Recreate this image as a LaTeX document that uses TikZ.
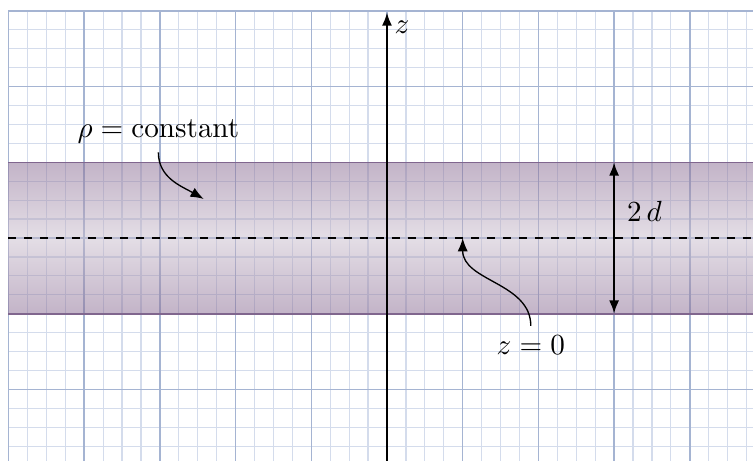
\documentclass[tikz,border=0pt]{standalone}
\usetikzlibrary{arrows.meta}
\definecolor{gridmajor}{RGB}{165,180,210}
\definecolor{gridminor}{RGB}{212,220,236}
\definecolor{bandedge}{RGB}{128,102,142}
\definecolor{banddark}{RGB}{135,105,145}
\definecolor{bandlight}{RGB}{201,189,205}
\tikzset{
  tip/.style={-{Latex[length=5pt,width=3.8pt]}},
  thinarrow/.style={tip, line width=0.5pt},
  lbl/.style={inner sep=2pt},
}
\begin{document}
\begin{tikzpicture}[x=1cm,y=1cm,font=\fontsize{10.6}{13}\selectfont]
\useasboundingbox (-5.112,-2.933) rectangle (4.835,3.144);
\begin{scope}
  \clip (-5.112,-2.933) rectangle (4.835,3.144);
  % grid
  \draw[gridminor, line width=0.45pt] (-5,-3.25) grid[step=0.25] (5.25,3);
  \draw[gridmajor, line width=0.55pt] (-5,-4) grid[step=1] (5,3);
  % band
  \shade[top color=banddark, bottom color=banddark, middle color=bandlight, fill opacity=0.5]
    (-5,-1) rectangle (5.2,1);
  \draw[bandedge, line width=0.6pt] (-5,1) -- (5.2,1);
  \draw[bandedge, line width=0.6pt] (-5,-1) -- (5.2,-1);
  % mid-plane
  \draw[dashed, line width=0.6pt] (-5,0) -- (5.2,0);
\end{scope}
% z axis
\coordinate (axb) at (0,-3);
\coordinate (axt) at (0,2.98);
\draw[tip, line width=0.8pt] (axb) -- (axt);
\node[lbl] (zl) at (0.2,2.79) {$z$};
% thickness
\coordinate (dtop) at (3,1);
\coordinate (dbot) at (3,-1);
\draw[{Latex[length=5pt,width=3.8pt]}-{Latex[length=5pt,width=3.8pt]}, line width=0.8pt] (dtop) -- (dbot);
\node[lbl] (dl) at (3.40,0.35) {$2\,d$};
% rho label
\node (rho) at (-3.02,1.41) {$\rho = \mathrm{constant}$};
\coordinate (rhotip) at (-2.42,0.515);
\draw[thinarrow] (rho.south) to[out=-90,in=150] (rhotip);
% z = 0 label
\node (z0) at (1.9,-1.41) {$z = 0$};
\coordinate (z0tip) at (1,0);
\draw[thinarrow] (z0.north) to[out=90,in=-90] (z0tip);
\end{tikzpicture}
\end{document}
